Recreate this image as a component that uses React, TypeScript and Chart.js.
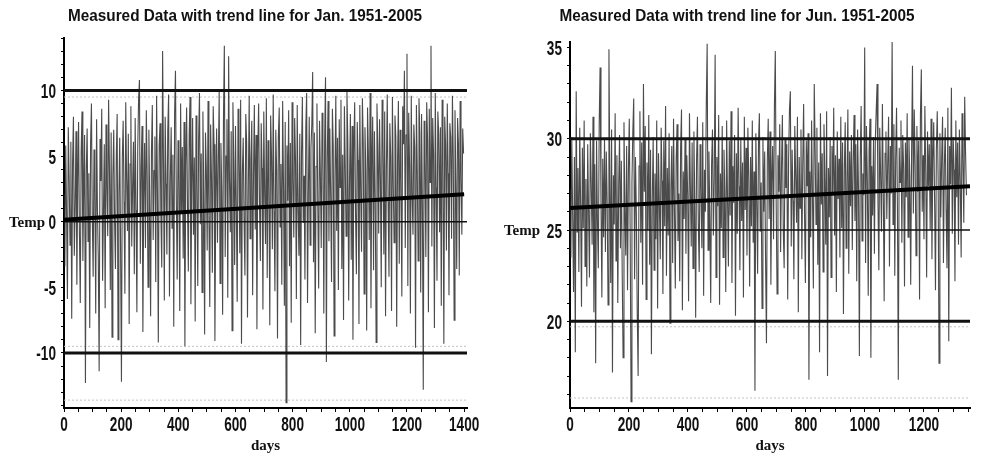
import { useEffect, useRef } from "react";
import { Chart, registerables } from "chart.js";

Chart.register(...registerables);

// ---------------- January panel data ----------------
const JAN_TITLE = "Measured Data with trend line for Jan. 1951-2005";
const JAN_STEP_DAYS = 3;
const JAN_TEMPS = [
  2.1, -3.4, 5.8, 0.6, -5.9, 7.2, 3.4, -1.8, 6.1, -7.4, 4.5, 8.0, -2.6, 1.2, 6.9, -4.8, 3.0, 7.6, -0.9, -6.2,
  5.3, 8.4, -3.0, 2.5, 6.6, -12.3, 4.0, 7.1, -1.5, 3.7, -8.1, 6.0, 9.0, 0.3, -4.2, 5.5, 2.2, -7.0, 7.8, 1.0,
  -2.9, -11.4, 6.3, 3.1, 8.6, -4.5, 0.8, 5.9, -6.6, 7.4, 2.8, -1.1, 9.3, 4.2, -5.2, 6.8, -8.8, 3.5, 7.0, 0.1,
  -3.6, 5.0, 8.2, -9.0, 2.0, 6.4, -2.3, -12.2, 4.8, 7.7, 1.5, -5.5, 9.1, 3.3, -0.7, 6.7, -7.8, 4.4, 8.8, -1.9,
  2.7, 6.1, -4.0, 7.9, 0.9, -6.9, 5.6, 9.4, 10.8, -3.2, 4.1, 7.3, -8.4, 1.8, 6.0, -2.0, 8.5, 3.6, -5.0, 7.0,
  1.1, -7.2, 5.4, 8.9, -1.4, 3.9, 6.5, -4.6, 9.6, 2.3, -9.2, 5.8, 7.5, 0.4, -3.5, 13.0, 4.6, -6.0, 8.0, 2.9,
  -2.5, 6.9, 9.7, -5.7, 3.2, 7.2, -0.5, 5.1, -8.0, 8.3, 11.5, 1.7, -4.4, 6.2, 3.8, -6.8, 9.0, 0.7, 5.7, -2.8,
  7.6, -9.5, 4.3, 8.7, 1.4, -3.8, 6.6, 9.5, -6.3, 2.6, 7.9, -1.0, 4.9, -7.6, 8.1, 3.0, -4.9, 6.3, 9.8, -0.2,
  5.2, -5.4, 8.4, 2.1, -8.6, 6.8, 4.0, -2.2, 9.2, 0.5, -6.5, 7.4, 3.4, -3.9, 8.8, 5.9, -9.1, 1.9, 7.1, -1.6,
  4.7, 9.9, -4.7, 6.0, 2.4, -7.1, 8.0, 13.4, -2.7, 5.0, 7.8, -5.8, 12.6, 3.1, -0.8, 6.9, -8.3, 9.1, 4.5, -3.3,
  7.3, 1.0, -6.1, 8.6, 5.3, -2.4, 9.3, -9.3, 3.7, 6.4, 0.2, -4.1, 8.2, 6.1, -7.3, 2.9, 9.6, -1.3, 4.8, 7.7,
  -5.6, 3.6, 8.9, -0.6, 6.6, -8.2, 5.5, 9.0, 1.3, -3.0, 7.5, 4.1, -6.7, 8.4, 2.2, -1.7, 9.4, -4.3, 6.2, 3.0,
  -7.9, 8.1, 5.0, -2.1, 9.7, 0.8, -5.3, 7.0, 3.9, -8.9, 6.5, 8.7, -0.4, 4.4, -4.8, 9.2, 2.7, -6.4, 7.6, -13.8,
  5.8, 1.6, 8.5, -3.4, 6.0, -7.7, 9.1, 3.3, -1.2, 7.9, 4.6, -5.9, 8.9, 0.9, -2.6, 6.7, -9.4, 5.2, 9.5, -0.1,
  3.5, -4.4, 7.2, 9.8, -6.2, 2.3, 8.0, -1.8, 5.6, 7.4, 11.4, -3.1, 6.8, -8.5, 4.2, 9.0, 1.2, -5.1, 7.7, 3.6,
  -2.0, 8.3, 5.5, -7.0, 6.3, 11.0, -10.7, 4.9, 9.2, -1.5, 7.1, 2.0, -4.6, 8.6, 5.8, -8.7, 3.4, 9.6, -0.7, 6.4,
  -5.2, 7.8, 2.6, 9.3, -3.6, 5.1, -7.5, 8.8, 4.3, -1.1, 9.9, 6.1, -6.0, 3.1, 8.2, -2.9, 7.3, -9.0, 5.4, 9.1,
  0.6, -4.0, 7.6, 4.7, -7.8, 8.9, 2.4, -2.3, 9.4, 6.0, -5.5, 7.2, 3.8, -8.3, 8.7, 5.2, -1.4, 9.8, -6.6, 4.5,
  8.0, -3.7, 6.9, 1.8, -9.2, 9.0, 5.6, -0.9, 7.8, 3.5, -5.0, 9.3, 6.2, -2.5, 8.4, -7.2, 4.0, 9.7, 1.5, -4.2,
  7.5, 5.0, -6.8, 9.5, 2.9, -1.6, 8.1, 6.5, -8.0, 4.7, 9.2, -3.2, 7.0, 3.2, -5.7, 8.8, 5.9, 11.5, -2.0, 6.6,
  12.8, -4.9, 8.3, 4.4, -7.0, 9.6, 2.1, -1.0, 7.4, 5.7, -9.6, 8.9, 3.9, -3.0, 9.4, 6.8, -5.4, 8.2, 1.0, -12.8,
  7.7, 4.8, -2.7, 9.1, 6.2, -6.9, 8.6, 3.0, 13.4, -1.9, 7.9, 5.1, -8.1, 9.8, 2.6, -4.5, 8.4, 6.7, -0.8, 7.2,
  -6.4, 9.3, 4.1, -9.3, 8.0, 5.9, -2.2, 9.0, 3.7, -5.6, 7.5, 6.4, -1.3, 9.6, 4.9, -7.5, 8.5, 2.8, -3.6, 7.9,
  6.0, -4.1, 9.2, 3.4, -1.0, 7.1, 5.2,
];
const JAN_TREND_DAYS = [0, 1400];
const JAN_TREND_TEMPS = [0.15, 2.1];
const JAN_LIMIT_LINES = [10, -10];
const JAN_CENTER_LINES = [0];
const JAN_FAINT_LINES = [9.5, -9.5, -13.6];
const JAN_X_RANGE = [0, 1410];
const JAN_Y_RANGE = [-14.2, 14.0];
const JAN_X_LABELS = [0, 200, 400, 600, 800, 1000, 1200, 1400];
const JAN_Y_LABELS = [-10, -5, 0, 5, 10];
const JAN_TEMP_LABEL_AT = 0;

// ---------------- June panel data ----------------
const JUN_TITLE = "Measured Data with trend line for Jun. 1951-2005";
const JUN_STEP_DAYS = 3;
const JUN_TEMPS = [
  27.2, 23.5, 30.1, 25.8, 21.6, 29.0, 18.3, 32.6, 24.9, 28.4, 22.7, 30.6, 26.3, 20.8, 29.5, 25.1, 31.0, 23.0, 27.8, 21.9,
  29.7, 26.0, 22.4, 30.3, 27.5, 24.2, 31.2, 20.5, 28.6, 17.7, 29.9, 25.5, 22.9, 30.8, 33.9, 26.7, 21.3, 28.9, 24.6, 30.0,
  23.8, 29.3, 26.5, 20.9, 34.9, 27.9, 22.1, 30.5, 17.2, 28.0, 25.3, 31.4, 23.3, 29.1, 21.0, 27.4, 30.2, 24.0, 28.8, 22.6,
  18.0, 30.9, 26.1, 23.6, 29.6, 21.7, 28.2, 31.1, 24.8, 15.6, 27.6, 30.4, 32.2, 22.3, 29.0, 25.9, 20.4, 17.0, 28.5, 31.5,
  24.3, 29.8, 22.0, 33.0, 27.1, 30.7, 21.2, 28.7, 25.0, 31.3, 23.1, 29.4, 18.2, 26.8, 30.1, 22.8, 28.1, 24.5, 31.0, 20.7,
  29.2, 26.4, 23.4, 30.6, 27.7, 21.5, 29.9, 25.2, 31.8, 22.5, 28.4, 24.7, 30.3, 19.9, 27.3, 29.6, 23.2, 31.1, 26.2, 21.8,
  28.9, 30.8, 24.4, 27.0, 22.2, 29.5, 31.6, 20.6, 28.2, 25.6, 30.0, 23.7, 29.1, 26.9, 21.1, 31.4, 27.5, 24.1, 29.8, 22.9,
  30.4, 26.6, 20.2, 28.8, 31.2, 25.4, 22.7, 29.7, 27.2, 24.0, 30.9, 21.4, 28.3, 26.0, 31.9, 35.2, 23.9, 29.3, 25.7, 21.0,
  28.6, 30.5, 24.7, 27.8, 34.6, 22.4, 29.0, 26.3, 31.3, 20.9, 28.1, 25.1, 30.7, 23.5, 29.4, 27.0, 21.6, 31.0, 26.7, 23.0,
  29.9, 25.8, 31.5, 22.1, 28.5, 26.5, 30.2, 20.3, 29.2, 24.8, 31.7, 27.4, 22.8, 30.0, 25.5, 28.7, 21.3, 31.2, 26.1, 29.5,
  23.6, 30.6, 27.9, 21.9, 29.0, 25.2, 31.0, 24.3, 28.2, 16.2, 30.3, 26.8, 22.6, 29.8, 31.4, 24.9, 27.6, 20.7, 30.1, 26.0,
  29.3, 23.3, 18.8, 28.9, 31.1, 25.6, 30.4, 22.0, 27.7, 29.6, 24.5, 31.8, 34.8, 26.4, 21.5, 29.1, 27.1, 30.8, 23.8, 28.4,
  31.3, 25.0, 22.9, 30.0, 27.3, 29.7, 21.2, 28.8, 31.6, 32.6, 24.1, 29.4, 26.6, 22.3, 30.7, 28.0, 25.4, 31.2, 20.5, 29.0,
  26.2, 30.5, 23.4, 28.6, 31.9, 25.9, 22.1, 29.9, 27.4, 30.3, 16.8, 28.2, 24.6, 31.0, 26.9, 21.8, 33.0, 29.5, 25.3, 30.6,
  23.1, 28.7, 18.3, 31.4, 26.4, 29.2, 22.7, 30.8, 27.8, 24.2, 31.5, 17.0, 28.4, 25.7, 30.1, 22.4, 29.6, 27.0, 31.7, 24.7,
  29.1, 21.6, 30.4, 26.7, 28.9, 23.5, 31.2, 25.1, 29.8, 20.4, 28.3, 30.9, 24.0, 27.5, 31.6, 22.6, 29.3, 26.3, 30.2, 23.9,
  28.8, 31.3, 25.5, 29.7, 22.2, 30.5, 27.2, 18.1, 29.0, 31.8, 24.4, 28.1, 26.9, 35.0, 23.2, 30.7, 27.7, 21.4, 29.4, 31.1,
  18.0, 28.5, 25.8, 30.1, 23.7, 29.9, 31.5, 33.0, 26.5, 22.8, 30.6, 28.0, 24.9, 31.9, 27.3, 21.1, 29.2, 30.4, 25.6, 28.7,
  31.2, 23.0, 29.6, 27.0, 35.4, 25.3, 30.8, 22.5, 28.9, 31.7, 26.2, 16.8, 29.5, 27.6, 31.0, 24.3, 30.2, 28.4, 21.9, 29.8,
  26.8, 31.4, 24.6, 30.0, 27.9, 22.0, 29.3, 34.0, 25.9, 31.6, 28.6, 23.6, 30.7, 27.1, 29.9, 21.2, 31.3, 33.8, 26.0, 29.1,
  24.5, 31.8, 28.2, 22.4, 30.4, 27.4, 29.7, 25.0, 31.1, 23.4, 28.8, 30.9, 26.6, 21.7, 29.4, 31.5, 27.8, 17.7, 30.3, 25.7,
  29.0, 31.2, 23.2, 28.5, 30.6, 26.1, 22.9, 31.7, 18.9, 29.6, 27.5, 32.8, 24.8, 30.1, 28.3, 22.2, 31.0, 26.8, 29.8, 24.2,
  30.5, 27.7, 23.5, 31.4, 28.9, 25.4, 32.3, 29.2, 26.9,
];
const JUN_TREND_DAYS = [0, 1356];
const JUN_TREND_TEMPS = [26.2, 27.4];
const JUN_LIMIT_LINES = [30, 20];
const JUN_CENTER_LINES = [25];
const JUN_FAINT_LINES = [19.7, 15.8];
const JUN_X_RANGE = [0, 1356];
const JUN_Y_RANGE = [15.25, 35.3];
const JUN_X_LABELS = [0, 200, 400, 600, 800, 1000, 1200];
const JUN_Y_LABELS = [20, 25, 30, 35];
const JUN_TEMP_LABEL_AT = 25;

type PanelSpec = {
  title: string;
  step: number;
  temps: number[];
  trendDays: number[];
  trendTemps: number[];
  limitLines: number[];
  centerLines: number[];
  faintLines: number[];
  xRange: number[];
  yRange: number[];
  xLabels: number[];
  yLabels: number[];
  tempLabelAt: number;
  left: number;
  width: number;
  yAxisWidth: number;
  padTop: number;
  padRight: number;
  titleWidth: number;
  tempLabelX: number;
};

const PANELS: PanelSpec[] = [
  {
    title: JAN_TITLE, step: JAN_STEP_DAYS, temps: JAN_TEMPS, trendDays: JAN_TREND_DAYS, trendTemps: JAN_TREND_TEMPS,
    limitLines: JAN_LIMIT_LINES, centerLines: JAN_CENTER_LINES, faintLines: JAN_FAINT_LINES,
    xRange: JAN_X_RANGE, yRange: JAN_Y_RANGE, xLabels: JAN_X_LABELS, yLabels: JAN_Y_LABELS, tempLabelAt: JAN_TEMP_LABEL_AT,
    left: 0, width: 490, yAxisWidth: 64, padTop: 38, padRight: 23, titleWidth: 354, tempLabelX: 27,
  },
  {
    title: JUN_TITLE, step: JUN_STEP_DAYS, temps: JUN_TEMPS, trendDays: JUN_TREND_DAYS, trendTemps: JUN_TREND_TEMPS,
    limitLines: JUN_LIMIT_LINES, centerLines: JUN_CENTER_LINES, faintLines: JUN_FAINT_LINES,
    xRange: JUN_X_RANGE, yRange: JUN_Y_RANGE, xLabels: JUN_X_LABELS, yLabels: JUN_Y_LABELS, tempLabelAt: JUN_TEMP_LABEL_AT,
    left: 490, width: 494, yAxisWidth: 80, padTop: 42, padRight: 14, titleWidth: 355, tempLabelX: 32,
  },
];

const LABEL_FONT = "bold 20px 'Liberation Sans', Arial, sans-serif";
const LABEL_SQUEEZE = 0.68;

function drawSqueezed(
  ctx: CanvasRenderingContext2D, text: string, x: number, y: number,
  sx: number, font: string, align: CanvasTextAlign,
) {
  ctx.save();
  ctx.font = font;
  ctx.textAlign = align;
  ctx.textBaseline = "middle";
  ctx.fillStyle = "#111";
  ctx.translate(x, y);
  ctx.scale(sx, 1);
  ctx.fillText(text, 0, 0);
  ctx.restore();
}

function drawFitted(ctx: CanvasRenderingContext2D, text: string, cx: number, cy: number, targetW: number, font: string) {
  ctx.save();
  ctx.font = font;
  const w = ctx.measureText(text).width;
  ctx.restore();
  drawSqueezed(ctx, text, cx, cy, targetW / w, font, "center");
}

function hLine(y: number, x0: number, x1: number, color: string, width: number, dash: number[] = []) {
  return {
    type: "line" as const,
    data: [{ x: x0, y }, { x: x1, y }],
    borderColor: color,
    borderWidth: width,
    borderDash: dash,
    pointRadius: 0,
    order: 1,
  };
}

function buildConfig(p: PanelSpec): any {
  const [x0, x1] = p.xRange;
  const datasets: any[] = [];
  p.faintLines.forEach((v) => datasets.push({ ...hLine(v, x0, x1, "#c4c4c4", 1, [2, 2]), order: 8 }));
  datasets.push({
    type: "line",
    data: p.temps.map((t, i) => ({ x: i * p.step, y: t })),
    borderColor: "rgba(35,35,35,0.82)",
    borderWidth: 1.1,
    pointRadius: 0,
    tension: 0,
    order: 5,
  });
  p.limitLines.forEach((v) => datasets.push(hLine(v, x0, x1, "#111", 3)));
  p.centerLines.forEach((v) => datasets.push(hLine(v, x0, x1, "#111", 1.6)));
  datasets.push({
    type: "line",
    data: p.trendDays.map((d, i) => ({ x: d, y: p.trendTemps[i] })),
    borderColor: "#000",
    borderWidth: 4,
    pointRadius: 0,
    order: 0,
  });

  const textPlugin = {
    id: "panelText",
    afterDraw(chart: any) {
      const ctx: CanvasRenderingContext2D = chart.ctx;
      const area = chart.chartArea;
      const xs = chart.scales.x;
      const ys = chart.scales.y;
      drawFitted(ctx, p.title, chart.width / 2, 16, p.titleWidth, "bold 17px 'Liberation Sans', Arial, sans-serif");
      p.yLabels.forEach((v) => {
        drawSqueezed(ctx, String(v), area.left - 8, ys.getPixelForValue(v) + 2, LABEL_SQUEEZE, LABEL_FONT, "right");
      });
      p.xLabels.forEach((v) => {
        drawSqueezed(ctx, String(v), xs.getPixelForValue(v), 425, LABEL_SQUEEZE, LABEL_FONT, "center");
      });
      ctx.save();
      ctx.fillStyle = "#111";
      ctx.font = "bold 15px 'Liberation Serif', 'Times New Roman', serif";
      ctx.textAlign = "center";
      ctx.textBaseline = "middle";
      ctx.fillText("Temp", p.tempLabelX, ys.getPixelForValue(p.tempLabelAt) + 1);
      ctx.fillText("days", (area.left + area.right) / 2, 446);
      ctx.restore();
    },
  };

  return {
    type: "line",
    data: { datasets },
    plugins: [textPlugin],
    options: {
      responsive: false,
      animation: false,
      devicePixelRatio: 1,
      layout: { padding: { top: p.padTop, right: p.padRight, bottom: 0, left: 0 } },
      plugins: { legend: { display: false }, tooltip: { enabled: false }, title: { display: false } },
      scales: {
        x: {
          type: "linear",
          min: x0,
          max: x1,
          afterFit: (s: any) => { s.height = 51; },
          border: { color: "#000", width: 2 },
          grid: { drawOnChartArea: false, drawTicks: true, tickLength: 4, color: "#000", lineWidth: 1 },
          ticks: { stepSize: 50, autoSkip: false, includeBounds: false, maxRotation: 0, callback: () => "" },
        },
        y: {
          type: "linear",
          min: p.yRange[0],
          max: p.yRange[1],
          afterFit: (s: any) => { s.width = p.yAxisWidth; },
          border: { color: "#000", width: 2 },
          grid: { drawOnChartArea: false, drawTicks: true, tickLength: 3, color: "#000", lineWidth: 1 },
          ticks: { stepSize: 1, autoSkip: false, includeBounds: false, callback: () => "" },
        },
      },
    },
  };
}

function Panel({ spec }: { spec: PanelSpec }) {
  const ref = useRef<HTMLCanvasElement>(null);
  useEffect(() => {
    const chart = new Chart(ref.current as HTMLCanvasElement, buildConfig(spec));
    return () => chart.destroy();
  }, [spec]);
  return (
    <canvas
      ref={ref}
      width={spec.width}
      height={459}
      style={{ position: "absolute", left: spec.left, top: 0, width: spec.width, height: 459 }}
    />
  );
}

export default function App() {
  return (
    <div style={{ position: "absolute", left: 0, top: 0, width: 984, height: 459, background: "#fff", overflow: "hidden" }}>
      {PANELS.map((p) => (
        <Panel key={p.title} spec={p} />
      ))}
    </div>
  );
}
